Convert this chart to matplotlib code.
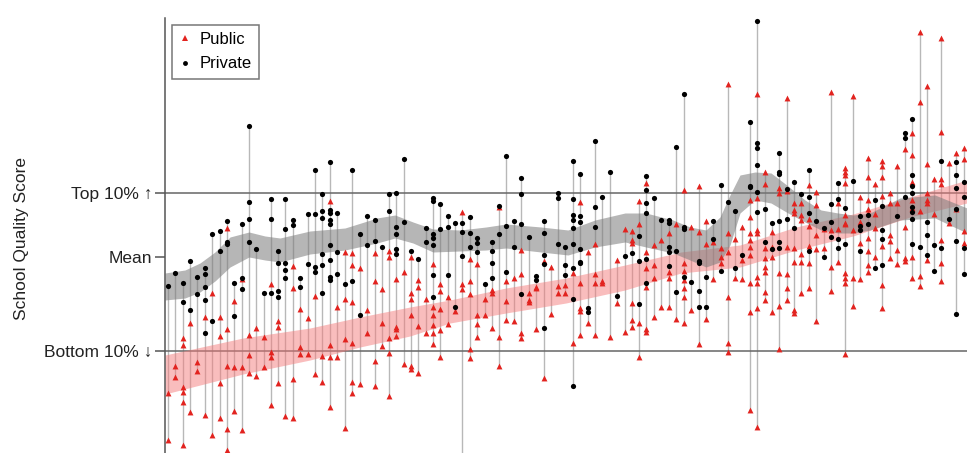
import matplotlib
matplotlib.use("Agg")
import matplotlib.pyplot as plt
from matplotlib.lines import Line2D

plt.rcParams['font.family'] = ['Liberation Sans', 'DejaVu Sans']

# Neighbourhood position (ordered) of each group of schools
col_pos = [3, 10, 18, 25, 32, 40, 47, 55, 62, 69, 77, 84, 91, 99, 106, 113,
           120, 128, 135, 143, 150, 157, 165, 172, 180, 187, 195, 202, 210, 217, 224,
           231, 239, 246, 253, 261, 268, 275, 283, 290, 297, 305, 312, 320, 327, 334, 341,
           349, 356, 364, 371, 379, 386, 393, 400, 408, 415, 423, 430, 437, 445, 452,
           460, 467, 474, 481, 489, 496, 504, 511, 519, 526, 534, 541, 548, 556, 563, 570,
           577, 585, 592, 600, 607, 614, 622, 629, 636, 644, 651, 659, 666, 673, 680, 688,
           695, 703, 710, 717, 725, 732, 740, 747, 755, 762, 769, 776, 784, 791, 799]

# School quality scores (mean = 500)
public_scores = [
    [364, 317], [391, 380], [419, 412, 370, 365, 355, 312], [434, 345], [395, 386],
    [440, 342], [464, 322], [440, 421, 374, 339], [529, 428, 391, 328, 307],
    [456, 390, 346], [478, 390, 327], [422, 402, 384], [429, 381], [420, 390],
    [473, 405, 400, 352], [436, 430, 374],
    [341], [491, 469, 378, 339], [448, 410, 403], [439, 403], [461, 383], [401, 375],
    [556, 412, 400, 350], [450, 400], [505, 458, 418, 329], [504, 492, 455, 414, 375, 364],
    [489, 373], [447, 424], [504, 476, 396, 371], [468, 434, 411], [506, 500, 419, 404, 361],
    [478, 430, 428, 421], [485, 393], [500, 464, 458, 442, 391, 388], [477, 470, 431, 384],
    [458, 424], [493, 450, 442, 432, 424, 413], [473, 466, 448, 427, 400], [460, 433],
    [446], [545, 473, 468, 296], [498, 476, 463, 408, 399], [493, 442, 433, 420],
    [458, 442], [467, 464, 429], [550, 420, 391], [476, 456, 437],
    [479, 436], [507, 483, 424, 419], [464, 457, 455], [470, 469, 428], [496, 379],
    [490, 443], [471, 464], [472, 464], [484, 414], [555, 474, 449, 446, 422], [505, 434],
    [513, 483, 474, 422], [476, 474], [420], [497, 454],
    [528, 425], [526, 517, 514, 454, 437, 430], [556, 533, 434, 400],
    [574, 505, 489, 470, 428, 425], [512, 492, 479, 440], [517, 450], [524, 485, 479, 450],
    [533, 438], [567, 494, 486, 477, 469, 460, 434], [530, 447], [571, 525, 413],
    [536, 513, 438], [515, 478], [509, 500, 494], [673, 524, 505, 460, 414, 405], [518, 479],
    [530, 497, 478], [557, 540, 524, 517, 510, 502, 474, 445, 347],
    [663, 559, 527, 524, 480, 474, 449, 330], [585, 573, 509, 499, 490, 485, 465, 457],
    [525, 510, 500, 445], [569, 564, 484, 451, 408], [659, 566, 510, 483, 469, 457],
    [554, 547, 544, 509, 495, 447, 444], [554, 542, 537, 503, 495, 464],
    [572, 538, 531, 511, 494, 469], [565, 552, 522, 508, 436], [528, 509],
    [665, 527, 490, 466], [554, 528, 495],
    [589, 585, 582, 574, 542, 534, 533, 484, 479, 474, 403], [661, 527, 479, 451],
    [560, 535, 514, 478], [599, 580, 557, 548, 544, 519, 506, 492, 485], [573, 543, 529, 500],
    [596, 591, 580, 561, 511, 472, 449], [564, 554, 522, 516, 499], [591, 554, 507, 493],
    [608, 530, 499, 496], [624, 602, 575, 557, 549, 500, 479], [725, 655, 546, 481, 471],
    [671, 593, 564, 557, 554, 497], [578, 543], [719, 625, 578, 573, 517, 494, 476],
    [594, 534], [604, 548], [609, 598, 526, 514],
]

private_scores = [
    [471], [484], [474, 455], [496, 447], [480, 463], [489, 483, 470, 457, 424], [523, 436],
    [526, 506], [536, 515, 513], [474, 441], [533, 479, 468], [631, 555, 538, 515], [508],
    [464], [558, 538, 464], [506, 494, 466, 460],
    [558, 528, 494, 487, 479], [537, 532], [479, 470], [543, 493], [587, 543, 490, 485],
    [563, 546, 539, 503, 492, 464], [595, 547, 544, 537, 533, 512, 497, 480, 477],
    [544, 505, 483], [473], [587, 476], [523, 442], [541, 512], [537, 516], [510], [563, 546],
    [564, 530, 523, 508, 503], [598, 535], [506], [498], [529, 515],
    [559, 556, 523, 519, 512, 482, 460], [553, 528], [541, 530, 482], [534, 450],
    [534, 525, 501], [540, 524, 510], [519, 514, 505], [473], [515, 506, 494, 479],
    [551, 523], [601, 531, 485],
    [536, 510], [579, 563, 533, 463], [520], [481, 477], [536, 524, 502, 493, 429], [],
    [564, 559, 513], [510, 492, 482], [596, 558, 542, 537, 529, 513, 489, 458, 371],
    [583, 541, 535, 508, 495, 494], [449, 445], [616, 550, 530], [560], [585], [461],
    [501], [504], [521, 496, 453], [581, 567, 554, 544, 498, 474], [559], [537],
    [537, 534, 510, 505, 491], [610, 506, 465], [663, 530, 528, 480], [475],
    [496, 494, 466, 450], [480, 450], [536, 518], [572, 486], [555], [546, 489],
    [502], [635, 571, 570], [736, 614, 609, 592, 565, 545], [548, 515], [534, 508],
    [604, 585, 583, 536, 515, 509], [568, 538], [575, 529], [563], [587, 560, 544, 506],
    [536], [529, 500], [553, 535, 520], [574, 558, 518, 509], [549, 513], [576],
    [541, 531, 527, 506], [542, 533], [557, 489], [551, 527, 518, 492], [], [541],
    [624, 619, 560], [638, 582, 571, 564, 550, 545, 538, 513], [510], [535, 522, 502],
    [512, 486], [596, 509], [538], [595, 582, 569, 548, 516, 443], [575, 560, 509, 483],
]

# Smoothed trend bands (upper / lower bound)
private_band_x = [0, 20, 35, 50, 65, 84, 100, 115, 145, 180, 212, 230, 248, 268, 295,
                  321, 341, 376, 403, 430, 460, 481, 508, 525, 541, 555, 565, 575, 590,
                  606, 623, 640, 656, 673, 688, 705, 735, 770, 802]
private_band_hi = [484, 487, 494, 505, 520, 525, 521, 519, 526, 529, 539, 542, 535, 528,
                   527, 530, 533, 530, 527, 537, 544, 544, 537, 530, 527, 540, 562, 582,
                   585, 584, 571, 557, 547, 544, 542, 544, 559, 562, 549]
private_band_lo = [457, 459, 465, 476, 490, 500, 497, 495, 503, 507, 514, 519, 514, 505,
                   506, 507, 509, 505, 502, 510, 515, 510, 504, 497, 490, 495, 512, 544,
                   557, 554, 544, 535, 527, 524, 524, 527, 537, 539, 524]

public_band_x = [0, 78, 145, 195, 245, 285, 341, 401, 460, 516, 575, 631, 688, 745, 802]
public_band_hi = [402, 419, 429, 440, 450, 457, 469, 479, 492, 505, 512, 530, 543, 560, 577]
public_band_lo = [363, 383, 397, 410, 421, 434, 444, 454, 467, 484, 490, 507, 521, 540, 554]

tick_values = [406, 500, 564]
tick_labels = ['Bottom 10% \u2193', 'Mean', 'Top 10% \u2191']

RED = '#e2231f'

fig = plt.figure(figsize=(9.67, 4.53), dpi=100)
ax = fig.add_axes([165 / 967, 0.0, 802 / 967, (453 - 18) / 453])
ax.set_xlim(0, 802)
ax.set_ylim(304, 739)

# vertical range line for every group
for x, pub, priv in zip(col_pos, public_scores, private_scores):
    vals = pub + priv
    ax.vlines(x, min(vals), max(vals), color='#b8b8b8', lw=1.0, zorder=1)

ax.axhline(tick_values[0], color='#666666', lw=1.1, zorder=1.5)
ax.axhline(tick_values[2], color='#666666', lw=1.1, zorder=1.5)

ax.fill_between(public_band_x, public_band_lo, public_band_hi, color='#f47c7c',
                alpha=0.5, lw=0, zorder=2)
ax.fill_between(private_band_x, private_band_lo, private_band_hi, color='#7a7a7a',
                alpha=0.55, lw=0, zorder=2.1)

px, py, qx, qy = [], [], [], []
for x, pub, priv in zip(col_pos, public_scores, private_scores):
    px += [x] * len(pub)
    py += pub
    qx += [x] * len(priv)
    qy += priv

ax.scatter(px, py, marker='^', s=18, color=RED, lw=0, zorder=3)
ax.scatter(qx, qy, marker='o', s=14, color='black', lw=0, zorder=3.1)

for side in ['top', 'right', 'bottom']:
    ax.spines[side].set_visible(False)
ax.spines['left'].set_color('#555555')
ax.spines['left'].set_linewidth(1.1)
ax.set_xticks([])
ax.set_yticks(tick_values, tick_labels)
ax.tick_params(axis='y', length=7, width=1.1, color='#555555', labelsize=12.5,
               labelcolor='#222222', pad=2)

fig.text(22 / 967, 1 - 239 / 453, 'School Quality Score', rotation=90,
         ha='center', va='center', fontsize=12.5, color='#222222')

handles = [
    Line2D([], [], marker='^', color=RED, ls='none', markersize=4.5, markeredgewidth=0),
    Line2D([], [], marker='o', color='black', ls='none', markersize=3.5, markeredgewidth=0),
]
leg = ax.legend(handles, ['Public', 'Private'], loc='upper left', bbox_to_anchor=(0, 1),
                fontsize=12, frameon=True, fancybox=False, borderaxespad=0.4,
                handlelength=0.7, handletextpad=0.5, borderpad=0.45, labelspacing=0.55)
leg.get_frame().set_edgecolor('#555555')
leg.get_frame().set_linewidth(1.1)

fig.savefig('out.png', dpi=100)
